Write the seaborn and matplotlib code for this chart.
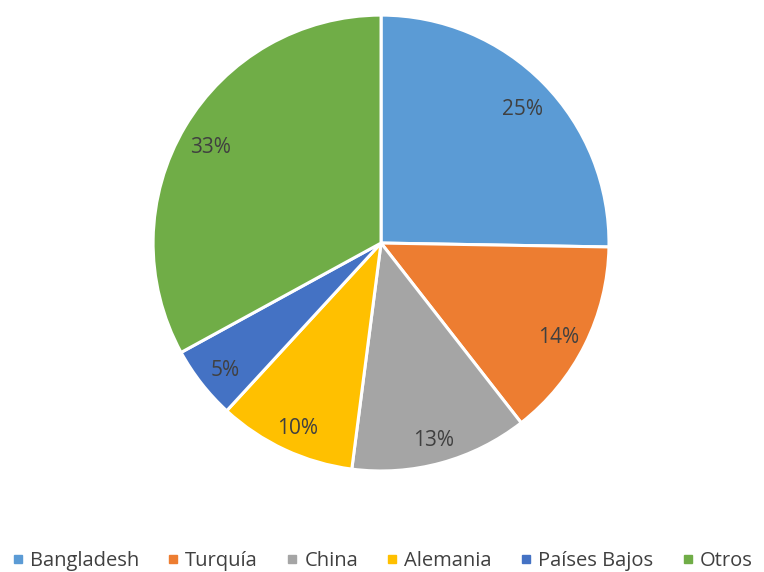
import matplotlib
matplotlib.use("Agg")
import matplotlib.pyplot as plt
from matplotlib.lines import Line2D
import seaborn as sns

categories = ["Bangladesh", "Turquía", "China", "Alemania", "Países Bajos", "Otros"]
shares = [25.3, 14.2, 12.6, 9.8, 5.2, 33.0]
colors = ["#5B9BD5", "#ED7D31", "#A5A5A5", "#FFC000", "#4472C4", "#70AD47"]

sns.set_style("white")
plt.rcParams["font.family"] = ["Open Sans", "DejaVu Sans"]

fig = plt.figure(figsize=(7.64, 5.72), dpi=100)
ax = fig.add_axes([0.2003, 0.1766, 0.5969, 0.797])

wedges, texts, autotexts = ax.pie(
    shares, colors=colors, startangle=90, counterclock=False,
    autopct="%1.0f%%", pctdistance=0.87,
    wedgeprops=dict(edgecolor="white", linewidth=2.2),
    textprops=dict(color="#404040", fontsize=15),
)
# nudge labels slightly down, as in the reference
for t in autotexts:
    x, y = t.get_position()
    t.set_position((x, y - 0.025))

ax.set_aspect("equal")
ax.set_xlim(-1, 1)
ax.set_ylim(-1, 1)
ax.axis("off")

handles = [Line2D([], [], marker="s", linestyle="", markersize=6,
                  markerfacecolor=c, markeredgecolor=c) for c in colors]
fig.legend(handles, categories, loc="center", bbox_to_anchor=(0.5, 0.019),
           ncol=6, frameon=False, fontsize=14.5, handlelength=0.6,
           handletextpad=0.3, columnspacing=1.4, labelcolor="#404040")

fig.savefig("out.png", dpi=100)
